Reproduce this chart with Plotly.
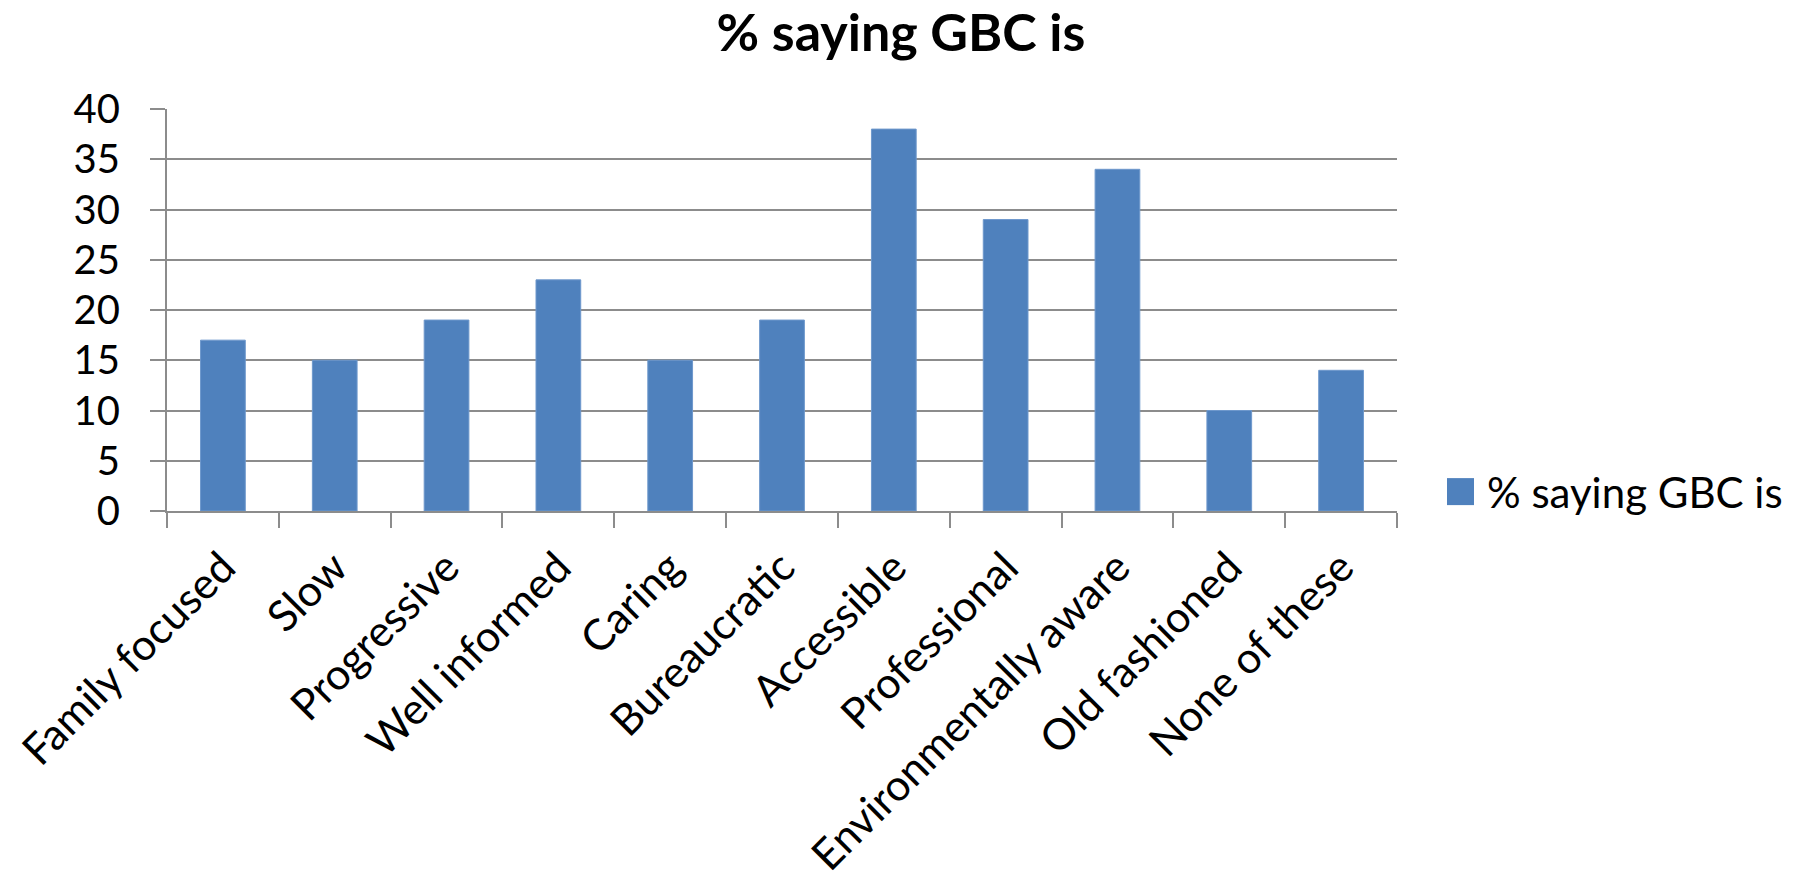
import plotly.graph_objects as go

# Survey responses: share of people describing GBC with each term
categories = [
    "Family focused", "Slow", "Progressive", "Well informed", "Caring",
    "Bureaucratic", "Accessible", "Professional", "Environmentally aware",
    "Old fashioned", "None of these",
]
percent_saying = [17, 15, 19, 23, 15, 19, 38, 29, 34, 10, 14]
series_name = "% saying GBC is"
y_ticks = [0, 5, 10, 15, 20, 25, 30, 35, 40]

BAR_COLOR = "#4F81BD"
GRID_COLOR = "#8C8C8C"
FONT = "Lato"

fig = go.Figure(
    go.Bar(
        x=categories,
        y=percent_saying,
        name=series_name,
        marker=dict(color=BAR_COLOR, line=dict(color="#6E98CC", width=1)),
        showlegend=False,
    )
)

fig.update_layout(
    width=1802,
    height=890,
    margin=dict(l=167, r=405, t=109, b=379),
    paper_bgcolor="white",
    plot_bgcolor="white",
    bargap=0.6,
    font=dict(family=FONT, color="black", size=40),
    title=dict(
        text="<b>" + series_name + "</b>",
        x=0.5,
        xanchor="center",
        y=1 - 33 / 890,
        yanchor="middle",
        yref="container",
        font=dict(family=FONT, size=52, color="black"),
    ),
    xaxis=dict(
        type="category",
        automargin=False,
        tickangle=-45,
        tickson="boundaries",
        ticks="outside",
        ticklen=15,
        tickwidth=2,
        tickcolor=GRID_COLOR,
        showline=True,
        linecolor=GRID_COLOR,
        linewidth=2,
        showgrid=False,
        ticklabelstandoff=12,
        tickfont=dict(size=43),
    ),
    yaxis=dict(
        automargin=False,
        range=[0, 40],
        tickvals=y_ticks,
        ticks="outside",
        ticklen=15,
        tickwidth=2,
        tickcolor=GRID_COLOR,
        showline=True,
        linecolor=GRID_COLOR,
        linewidth=2,
        showgrid=True,
        gridcolor=GRID_COLOR,
        gridwidth=2,
        zeroline=False,
        ticklabelstandoff=22,
        tickfont=dict(size=40),
    ),
)

# Legend entry: swatch plus series label to the right of the plot
fig.add_shape(
    type="rect",
    xref="paper", yref="paper",
    xsizemode="pixel", ysizemode="pixel",
    xanchor=1.0, yanchor=0.047,
    x0=50, x1=77, y0=-13, y1=14,
    fillcolor=BAR_COLOR,
    line=dict(width=0),
)
fig.add_annotation(
    text=series_name,
    xref="paper", yref="paper",
    x=1.0, y=0.047,
    xshift=88,
    xanchor="left", yanchor="middle",
    showarrow=False,
    font=dict(family=FONT, size=42, color="black"),
)

fig.write_html("out.html")
